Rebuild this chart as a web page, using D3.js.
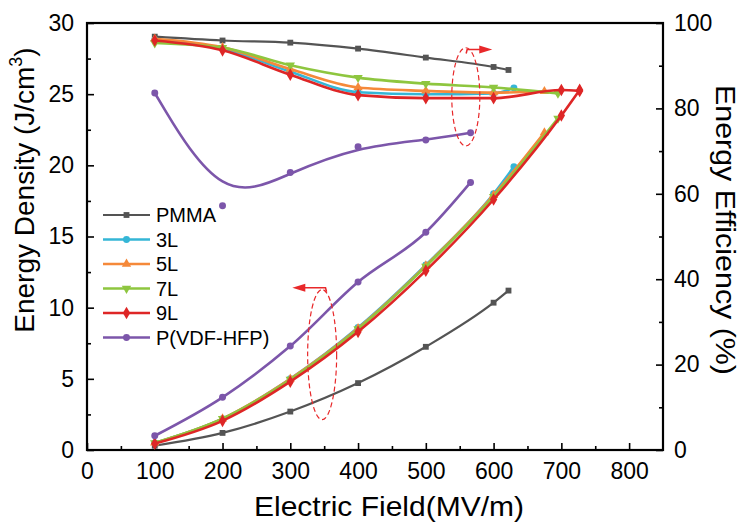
<!DOCTYPE html>
<html>
<head>
<meta charset="utf-8">
<script src="https://cdn.jsdelivr.net/npm/d3@7"></script>
<style>
  body { margin: 0; background: #fff; }
  svg text { font-family: "Liberation Sans", Arial, sans-serif; fill: #000; }
</style>
</head>
<body>
<div id="chart"></div>
<script>
// series names / colours
var seriesNames = ["PMMA", "3L", "5L", "7L", "9L", "P(VDF-HFP)"];
var seriesColors = ["#545454", "#35b6d6", "#f5893a", "#8ec63f", "#de2626", "#7c56aa"];

// electric field (MV/m) for each series
var fieldPMMA = [100, 200, 300, 400, 500, 600, 622];
var field3L = [100, 200, 300, 400, 500, 600, 630];
var field5L = [100, 200, 300, 400, 500, 600, 675];
var field7L = [100, 200, 300, 400, 500, 600, 695];
var field9L = [100, 200, 300, 400, 500, 600, 700, 727];
var fieldPVDF = [100, 200, 300, 400, 500, 566];

// energy density (J/cm3), left axis
var densPMMA = [0.3, 1.2, 2.7, 4.7, 7.25, 10.35, 11.2];
var dens3L = [0.5, 2.2, 5.0, 8.6, 13.0, 18.0, 19.9];
var dens5L = [0.5, 2.2, 5.0, 8.55, 12.95, 17.9, 22.3];
var dens7L = [0.5, 2.2, 4.95, 8.5, 12.9, 17.8, 23.3];
var dens9L = [0.45, 2.05, 4.8, 8.3, 12.6, 17.6, 23.5, 25.3];
var densPVDF = [1.0, 3.7, 7.3, 11.8, 15.3, 18.8];

// energy efficiency (%), right axis
var effPMMA = [96.8, 95.9, 95.4, 94.0, 91.9, 89.7, 89.0];
var eff3L = [96.0, 94.0, 88.6, 83.8, 83.3, 83.5, 84.8];
var eff5L = [96.3, 94.3, 89.2, 84.9, 84.1, 83.7, 84.0];
var eff7L = [95.3, 94.2, 90.1, 87.2, 85.8, 84.9, 83.5];
var eff9L = [95.9, 93.6, 87.9, 83.1, 82.4, 82.4, 84.3, 84.1];
var effPVDF = [83.6, 57.2, 65.0, 71.0, 72.6, 74.3];

var xTicks = [0, 100, 200, 300, 400, 500, 600, 700, 800];
var yLeftTicks = [0, 5, 10, 15, 20, 25, 30];
var yRightTicks = [0, 20, 40, 60, 80, 100];

var fields = [fieldPMMA, field3L, field5L, field7L, field9L, fieldPVDF];
var dens = [densPMMA, dens3L, dens5L, dens7L, dens9L, densPVDF];
var effs = [effPMMA, eff3L, eff5L, eff7L, eff9L, effPVDF];

var svgWidth = 746, svgHeight = 526;
var margin = {top: 23, right: 83, bottom: 76, left: 87};
var width = svgWidth - margin.left - margin.right;
var height = svgHeight - margin.top - margin.bottom;

var svg = d3.select("#chart").append("svg")
  .attr("width", svgWidth)
  .attr("height", svgHeight);

var chartGroup = svg.append("g")
  .attr("transform", `translate(${margin.left}, ${margin.top})`);

var xScale = d3.scaleLinear().domain([0, 850]).range([0, width]);
var yLeft = d3.scaleLinear().domain([0, 30]).range([height, 0]);
var yRight = d3.scaleLinear().domain([0, 100]).range([height, 0]);

// minor ticks
chartGroup.append("g")
  .attr("transform", `translate(0, ${height})`)
  .call(d3.axisBottom(xScale).tickValues(d3.range(50, 850, 100)).tickSize(-4).tickFormat(""))
  .call(g => g.select(".domain").remove());
chartGroup.append("g")
  .call(d3.axisLeft(yLeft).tickValues(d3.range(2.5, 30, 5)).tickSize(-4).tickFormat(""))
  .call(g => g.select(".domain").remove());
chartGroup.append("g")
  .attr("transform", `translate(${width}, 0)`)
  .call(d3.axisRight(yRight).tickValues(d3.range(10, 100, 20)).tickSize(-4).tickFormat(""))
  .call(g => g.select(".domain").remove());

// major ticks
var xAxis = chartGroup.append("g")
  .attr("transform", `translate(0, ${height})`)
  .call(d3.axisBottom(xScale).tickValues(xTicks).tickSize(-7).tickPadding(12).tickFormat(d3.format("d")));
var yAxisL = chartGroup.append("g")
  .call(d3.axisLeft(yLeft).tickValues(yLeftTicks).tickSize(-7).tickPadding(13).tickFormat(d3.format("d")));
var yAxisR = chartGroup.append("g")
  .attr("transform", `translate(${width}, 0)`)
  .call(d3.axisRight(yRight).tickValues(yRightTicks).tickSize(-7).tickPadding(11).tickFormat(d3.format("d")));

[xAxis, yAxisL, yAxisR].forEach(g => {
  g.selectAll(".domain").remove();
  g.selectAll("text").style("font-size", "23px").attr("fill", "#000");
});
xAxis.selectAll("text").attr("dy", "0.72em");
svg.selectAll(".tick line").attr("stroke", "#000").attr("stroke-width", 1.6);

// frame
chartGroup.append("rect")
  .attr("width", width).attr("height", height)
  .attr("fill", "none").attr("stroke", "#000").attr("stroke-width", 2.2);

// axis titles
svg.append("text")
  .attr("x", 389).attr("y", 516)
  .attr("text-anchor", "middle")
  .attr("textLength", 270).attr("lengthAdjust", "spacingAndGlyphs")
  .style("font-size", "28px")
  .text("Electric Field(MV/m)");

var yt = svg.append("text")
  .attr("transform", "translate(34, 190) rotate(-90)")
  .attr("text-anchor", "middle")
  .style("font-size", "28px");
yt.append("tspan").text("Energy Density (J/cm");
yt.append("tspan").attr("dy", -12).style("font-size", "18px").text("3");
yt.append("tspan").attr("dy", 12).text(")");

svg.append("text")
  .attr("transform", "translate(716, 230) rotate(90)")
  .attr("text-anchor", "middle")
  .attr("textLength", 290).attr("lengthAdjust", "spacingAndGlyphs")
  .style("font-size", "28px")
  .text("Energy Efficiency (%)");

var symbols = [
  d3.symbol().type(d3.symbolSquare).size(34),
  d3.symbol().type(d3.symbolCircle).size(38),
  d3.symbol().type(d3.symbolTriangle).size(38),
  d3.symbol().type(d3.symbolTriangle).size(38),
  d3.symbol().type(d3.symbolDiamond).size(46),
  d3.symbol().type(d3.symbolCircle).size(38)
];
var rotations = [0, 0, 0, 180, 0, 0];

var lineDens = d3.line().x(d => xScale(d[0])).y(d => yLeft(d[1])).curve(d3.curveMonotoneX);
var lineEff = d3.line().x(d => xScale(d[0])).y(d => yRight(d[1])).curve(d3.curveMonotoneX);
var lineEffBasis = d3.line().x(d => xScale(d[0])).y(d => yRight(d[1])).curve(d3.curveBasis);

var plotGroup = chartGroup.append("g");

seriesNames.forEach((name, i) => {
  var pd = fields[i].map((f, j) => [f, dens[i][j]]);
  var pe = fields[i].map((f, j) => [f, effs[i][j]]);
  var g = plotGroup.append("g");
  g.append("path").attr("d", lineDens(pd))
    .attr("fill", "none").attr("stroke", seriesColors[i]).attr("stroke-width", i == 0 ? 2.2 : 2.6);
  g.append("path").attr("d", (i == 5 ? lineEffBasis : lineEff)(pe))
    .attr("fill", "none").attr("stroke", seriesColors[i]).attr("stroke-width", i == 0 ? 2.2 : 2.6);
  g.selectAll(".md").data(pd).enter().append("path")
    .attr("d", symbols[i])
    .attr("transform", d => `translate(${xScale(d[0])}, ${yLeft(d[1])}) rotate(${rotations[i]})`)
    .attr("fill", seriesColors[i]);
  g.selectAll(".me").data(pe).enter().append("path")
    .attr("d", symbols[i])
    .attr("transform", d => `translate(${xScale(d[0])}, ${yRight(d[1])}) rotate(${rotations[i]})`)
    .attr("fill", seriesColors[i]);
});

// legend
var legend = chartGroup.append("g").attr("transform", "translate(16, 192)");
seriesNames.forEach((name, i) => {
  var row = legend.append("g").attr("transform", `translate(0, ${i * 24.5})`);
  row.append("line").attr("x1", 0).attr("x2", 47)
    .attr("stroke", seriesColors[i]).attr("stroke-width", i == 0 ? 2.2 : 2.6);
  row.append("path").attr("d", symbols[i])
    .attr("transform", `translate(23.5, 0) rotate(${rotations[i]})`)
    .attr("fill", seriesColors[i]);
  row.append("text").attr("x", 53).attr("y", 0).attr("dy", "0.36em")
    .style("font-size", "20px").text(name);
});

// annotations: dashed ellipses with arrows pointing at the axis in use
var annot = chartGroup.append("g").attr("stroke", "#e8282a").attr("fill", "none");
var ellipses = [
  {cx: 559, cy: 82.7, rx: 20.7, ry: 11.5, scale: yRight},
  {cx: 347, cy: 6.7, rx: 21.4, ry: 4.57, scale: yLeft}
];
ellipses.forEach(e => {
  annot.append("ellipse")
    .attr("cx", xScale(e.cx)).attr("cy", e.scale(e.cy))
    .attr("rx", xScale(e.rx) - xScale(0))
    .attr("ry", e.scale(0) - e.scale(e.ry))
    .attr("stroke-width", 1.2).attr("stroke-dasharray", "5,3");
});
var arrows = [
  {x0: 561, x1: 598, y: 93.8, dir: 1, scale: yRight},
  {x0: 352, x1: 303, y: 11.4, dir: -1, scale: yLeft}
];
arrows.forEach(a => {
  var y = a.scale(a.y), x0 = xScale(a.x0), x1 = xScale(a.x1);
  annot.append("path")
    .attr("d", `M${x0 + a.dir * -1},${y + 4} L${x0},${y} L${x1 - a.dir * 10},${y}`)
    .attr("stroke-width", 1.5);
  annot.append("path")
    .attr("d", `M${x1},${y} L${x1 - a.dir * 13},${y - 4} L${x1 - a.dir * 13},${y + 4} Z`)
    .attr("fill", "#e8282a").attr("stroke", "none");
});
</script>
</body>
</html>
